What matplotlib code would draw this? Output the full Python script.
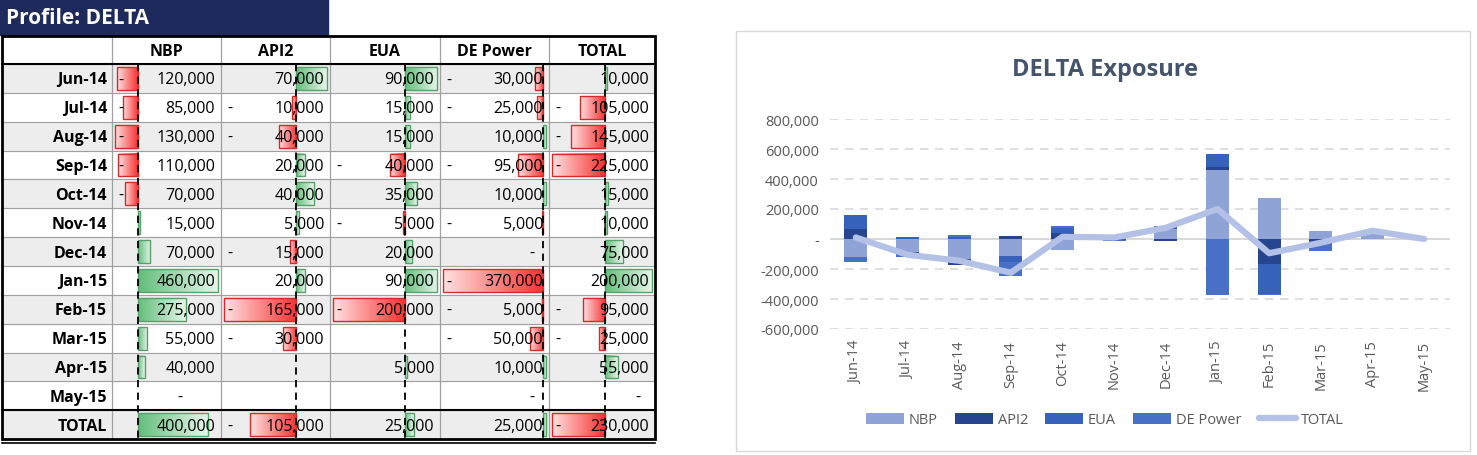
import numpy as np
import matplotlib.pyplot as plt
from matplotlib.patches import Rectangle
from matplotlib.ticker import FuncFormatter

plt.rcParams['font.family'] = 'Open Sans'

months = ['Jun-14', 'Jul-14', 'Aug-14', 'Sep-14', 'Oct-14', 'Nov-14',
          'Dec-14', 'Jan-15', 'Feb-15', 'Mar-15', 'Apr-15', 'May-15']
columns = ['NBP', 'API2', 'EUA', 'DE Power', 'TOTAL']
# None = empty cell
nbp = [-120000, -85000, -130000, -110000, -70000, 15000, 70000, 460000, 275000, 55000, 40000, 0]
api2 = [70000, -10000, -40000, 20000, 40000, 5000, -15000, 20000, -165000, -30000, None, None]
eua = [90000, 15000, 15000, -40000, 35000, -5000, 20000, 90000, -200000, None, 5000, None]
de_power = [-30000, -25000, 10000, -95000, 10000, -5000, 0, -370000, -5000, -50000, 10000, 0]
total = [10000, -105000, -145000, -225000, 15000, 10000, 75000, 200000, -95000, -25000, 55000, 0]
col_totals = [400000, -105000, 25000, 25000, -230000]

series = [nbp, api2, eua, de_power, total]

fig = plt.figure(figsize=(14.77, 4.56), dpi=100)
ax = fig.add_axes([0, 0, 1, 1])
ax.set_xlim(0, 1477)
ax.set_ylim(456, 0)
ax.axis('off')

# ---- title box ----
ax.add_patch(Rectangle((0, 0), 328, 36, color='#1F2A5C'))
ax.text(6, 19, 'Profile: DELTA', color='white', fontsize=15, fontweight='bold', va='center')

col_edges = [2, 112, 221, 330, 440, 549, 655]
top, head_h, row_h = 37, 28, 28.85
n_rows = len(months) + 1
table_bottom = top + head_h + n_rows * row_h

green = np.array([99, 190, 123]) / 255
red = np.array([248, 50, 50]) / 255


def grad_img(color, reverse):
    t = np.linspace(0.15, 1, 64)
    if reverse:
        t = t[::-1]
    img = np.ones((1, 64, 3)) * (1 - t[None, :, None]) + color[None, None, :] * t[None, :, None]
    return img


for r in range(n_rows):
    y0 = top + head_h + r * row_h
    if r % 2 == 0:
        ax.add_patch(Rectangle((col_edges[0], y0), col_edges[-1] - col_edges[0], row_h,
                               color='#EDEDED', zorder=0))
    label = months[r] if r < len(months) else 'TOTAL'
    ax.text(col_edges[1] - 5, y0 + row_h / 2 + 1, label, ha='right', va='center',
            fontsize=11.5, fontweight='bold')

for c, (name, vals) in enumerate(zip(columns, series)):
    x0, x1 = col_edges[c + 1], col_edges[c + 2]
    ax.text((x0 + x1) / 2, top + head_h / 2 + 1, name, ha='center', va='center',
            fontsize=11.5, fontweight='bold')
    nums = [v for v in vals if v is not None]
    pos_max = max(max(nums), 0)
    neg_max = -min(min(nums), 0)
    span = pos_max + neg_max
    inner = (x1 - x0) - 6
    axis_x = x0 + 3 + inner * neg_max / span
    scale = inner / span
    ax.plot([axis_x, axis_x], [top + head_h, table_bottom], color='black',
            lw=1.3, ls=(0, (4, 3)), zorder=3)
    cells = list(vals) + [col_totals[c]]
    for r, v in enumerate(cells):
        y0 = top + head_h + r * row_h
        yc = y0 + row_h / 2 + 1
        if v is None:
            continue
        if v != 0:
            w = abs(v) * scale
            w = min(w, (x1 - 3 - axis_x) if v > 0 else (axis_x - x0 - 3))
            bx = axis_x if v > 0 else axis_x - w
            col = green if v > 0 else red
            ax.imshow(grad_img(col, v > 0), extent=(bx, bx + w, y0 + row_h - 3, y0 + 3),
                      aspect='auto', zorder=1)
            ax.add_patch(Rectangle((bx, y0 + 3), w, row_h - 6, fill=False,
                                   ec=col * 0.85, lw=1, zorder=2))
            ax.text(x1 - 6, yc, f'{abs(v):,}', ha='right', va='center', fontsize=11.5, zorder=4)
            if v < 0:
                ax.text(x0 + 6, yc, '-', ha='left', va='center', fontsize=11.5, zorder=4)
        else:
            ax.text(x1 - 14 if c > 0 else (x0 + x1) / 2 + 16, yc, '-', ha='right',
                    va='center', fontsize=11.5, zorder=4)

# grid lines of table
for r in range(n_rows):
    y = top + head_h + r * row_h
    ax.plot([col_edges[0], col_edges[-1]], [y, y], color='#A0A0A0', lw=0.8, zorder=2.5)
for x in col_edges[1:-1]:
    ax.plot([x, x], [top, table_bottom], color='#A0A0A0', lw=0.9, zorder=2.5)
ax.plot([col_edges[0], col_edges[-1]], [top + head_h, top + head_h], color='black', lw=1.5, zorder=3)
ax.plot([col_edges[0], col_edges[-1]], [table_bottom - row_h] * 2, color='black', lw=1.5, zorder=3)
ax.add_patch(Rectangle((col_edges[0], top), col_edges[-1] - col_edges[0], table_bottom - top,
                       fill=False, ec='black', lw=2, zorder=3))
ax.plot([col_edges[0], col_edges[-1]], [table_bottom + 4] * 2, color='black', lw=1.2, zorder=3)

# ---- chart ----
ax.add_patch(Rectangle((736, 32), 734, 420, fill=False, ec='#D9D9D9', lw=1))
ax.text(1105, 70, 'DELTA Exposure', ha='center', va='center', fontsize=17,
        fontweight='bold', color='#44546A')

cax = fig.add_axes([830 / 1477, 1 - 330 / 456, 620 / 1477, 210 / 456])
x = np.arange(len(months))
bar_colors = ['#8FA3D6', '#27458F', '#3762BC', '#4870C6']
bar_names = ['NBP', 'API2', 'EUA', 'DE Power']
pos_base = np.zeros(len(months))
neg_base = np.zeros(len(months))
handles = []
for vals, colr, nm in zip(series[:4], bar_colors, bar_names):
    v = np.array([0 if a is None else a for a in vals], dtype=float)
    p = np.where(v > 0, v, 0)
    n = np.where(v < 0, v, 0)
    h = cax.bar(x, p, 0.45, bottom=pos_base, color=colr, label=nm, zorder=2)
    cax.bar(x, n, 0.45, bottom=neg_base, color=colr, zorder=2)
    handles.append(h)
    pos_base += p
    neg_base += n
line, = cax.plot(x, total, color='#B4C1E6', lw=4.5, label='TOTAL', zorder=3,
                 solid_capstyle='round')
handles.append(line)

cax.set_xlim(-0.5, len(months) - 0.5)
cax.set_ylim(-600000, 800000)
cax.set_yticks(np.arange(-600000, 800001, 200000))
cax.yaxis.set_major_formatter(FuncFormatter(lambda v, p: '-' if v == 0 else f'{v:,.0f}'))
cax.grid(axis='y', color='#D9D9D9', ls=(0, (5, 4)), lw=1.2, zorder=0)
cax.axhline(0, color='#D9D9D9', lw=1.5, zorder=1)
cax.set_xticks(x)
cax.set_xticklabels(months, rotation=90)
cax.tick_params(length=0, labelsize=10.5, colors='#595959', pad=8)
for s in cax.spines.values():
    s.set_visible(False)
cax.patch.set_alpha(0)
fig.legend(handles=handles, labels=bar_names + ['TOTAL'], loc='center',
           bbox_to_anchor=(1105 / 1477, 1 - 421 / 456), ncol=5,
           frameon=False, fontsize=10.5, labelcolor='#595959', handlelength=2.6,
           columnspacing=1.2, handletextpad=0.3)

fig.savefig('out.png', dpi=100)
